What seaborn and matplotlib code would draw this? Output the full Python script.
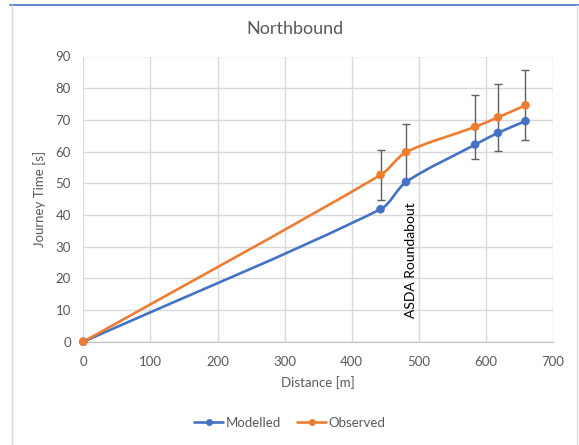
import numpy as np
import pandas as pd
import matplotlib
matplotlib.use("Agg")
import matplotlib.pyplot as plt
import seaborn as sns
from matplotlib.lines import Line2D
from matplotlib.path import Path
from matplotlib.patches import PathPatch

# ------------------------------------------------------------------
# Data
# ------------------------------------------------------------------
distance     = [0, 443, 481, 584, 618, 659]
modelled     = [0, 41.8, 50.4, 62.2, 65.9, 69.6]
observed     = [0, 52.6, 59.8, 67.8, 70.8, 74.6]
observed_err = [0, 8.0, 8.8, 10.2, 10.5, 11.1]

series_names = ["Modelled", "Observed"]
COLORS       = {"Modelled": "#4472C4", "Observed": "#ED7D31"}
TEXT_GREY    = "#595959"
GRID_GREY    = "#D9D9D9"
FONT         = "Lato"

df = pd.DataFrame({
    "Distance": distance * 2,
    "Time"    : modelled + observed,
    "Series"  : ["Modelled"] * len(distance) + ["Observed"] * len(distance),
})


def smooth_path(xs, ys, sx, sy, k=0.3):
    """Excel-like smoothed line: Bezier segments, Catmull-Rom tangent directions."""
    P = np.column_stack([np.asarray(xs) * sx, np.asarray(ys) * sy])
    n = len(P)
    tang = []
    for i in range(n):
        if i == 0:
            d = P[1] - P[0]
        elif i == n - 1:
            d = P[-1] - P[-2]
        else:
            d = P[i + 1] - P[i - 1]
        tang.append(d / np.linalg.norm(d))
    verts, codes = [P[0]], [Path.MOVETO]
    for i in range(n - 1):
        L = np.linalg.norm(P[i + 1] - P[i])
        verts += [P[i] + tang[i] * L * k, P[i + 1] - tang[i + 1] * L * k, P[i + 1]]
        codes += [Path.CURVE4] * 3
    verts = np.array(verts) / np.array([sx, sy])
    return Path(verts, codes)


# ------------------------------------------------------------------
# Figure
# ------------------------------------------------------------------
sns.set_style("white")
plt.rcParams["font.family"] = [FONT, "DejaVu Sans"]

fig = plt.figure(figsize=(5.79, 4.45), dpi=100)
ax  = fig.add_axes([83.3 / 579, 1 - 341.7 / 445, (553 - 83.3) / 579, (341.7 - 56.5) / 445])

ax.set_xlim(0, 700)
ax.set_ylim(0, 90)
ax.set_xticks(range(0, 701, 100))
ax.set_yticks(range(0, 91, 10))
ax.grid(True, color=GRID_GREY, linewidth=1.0)
ax.set_axisbelow(True)
for s in ["top", "right", "left"]:
    ax.spines[s].set_visible(False)
ax.spines["bottom"].set_color("#BFBFBF")
ax.spines["bottom"].set_zorder(1)

# pixel scale for the smoothing geometry
sx, sy = 469.7 / 700, 285.2 / 90
for name, ys in zip(series_names, [modelled, observed]):
    ax.add_patch(PathPatch(smooth_path(distance, ys, sx, sy), facecolor="none",
                           edgecolor=COLORS[name], linewidth=1.9, zorder=3))

# error bars on observed
ax.errorbar(distance[1:], observed[1:], yerr=observed_err[1:], fmt="none",
            ecolor="#606060", elinewidth=1.0, capsize=3, capthick=1.0, zorder=2)

sns.scatterplot(data=df, x="Distance", y="Time", hue="Series", palette=COLORS,
                s=38, edgecolor="none", legend=False, ax=ax, zorder=4, clip_on=False)

ax.tick_params(axis="both", length=0, labelsize=9.5, colors=TEXT_GREY)
ax.tick_params(axis="x", pad=10)
ax.tick_params(axis="y", pad=9)
ax.set_xlabel("Distance [m]", fontsize=9.5, color=TEXT_GREY, labelpad=6)
ax.set_ylabel("Journey Time [s]", fontsize=9.5, color=TEXT_GREY, labelpad=7)
fig.text(295 / 579, 1 - 28.5 / 445, "Northbound", fontsize=13, color=TEXT_GREY,
         ha="center", va="center")

ax.text(488, 7.5, "ASDA Roundabout", rotation=90, fontsize=10, color="black",
        ha="center", va="bottom")

handles = [Line2D([0], [0], color=COLORS[n], lw=1.9, marker="o", markersize=5,
                  markeredgecolor="none", label=n) for n in series_names]
fig.legend(handles=handles, loc="center", bbox_to_anchor=(290 / 579, 1 - 423 / 445),
           ncol=2, frameon=False, handlelength=2.2, handletextpad=0.2, columnspacing=1.2,
           prop={"family": FONT, "size": 9.5}, labelcolor=TEXT_GREY)

# chart frame / page lines
fig.add_artist(Line2D([10 / 579, 1], [1 - 4.5 / 445] * 2, color="#4472C4", lw=1.2))
fig.add_artist(Line2D([11.5 / 579] * 2, [0, 1 - 5 / 445], color="#D9D9D9", lw=1.0))
fig.add_artist(Line2D([577 / 579] * 2, [0, 1 - 5 / 445], color="#D9D9D9", lw=1.0))

fig.savefig("out.png", dpi=100)
